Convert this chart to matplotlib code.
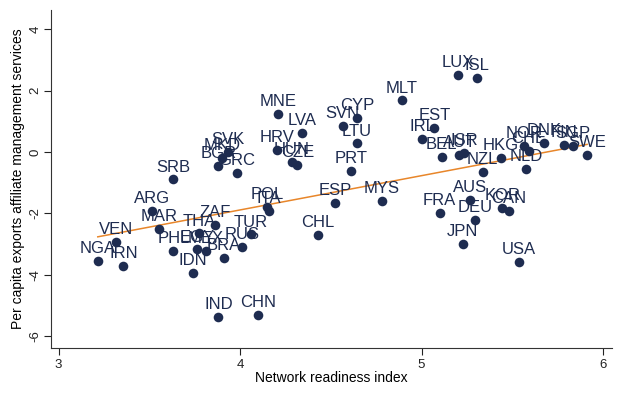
import numpy as np
import matplotlib
matplotlib.use('Agg')
import matplotlib.pyplot as plt

plt.rcParams['font.family'] = ['Liberation Sans', 'DejaVu Sans']

# Country codes, network readiness index, per capita exports
codes = ['NGA', 'IRN', 'VEN', 'ARG', 'MAR', 'PHL', 'THA', 'EGY', 'MEX', 'ZAF',
         'BRA', 'RUS', 'TUR', 'POL', 'ITA', 'IDN', 'IND', 'CHN', 'SRB', 'SVK',
         'MKD', 'BGR', 'GRC', 'MNE', 'LVA', 'HRV', 'HUN', 'CZE', 'SVN', 'CYP',
         'LTU', 'PRT', 'ESP', 'MYS', 'CHL', 'LUX', 'ISL', 'MLT', 'EST', 'IRL',
         'BEL', 'AUT', 'ISR', 'NZL', 'HKG', 'NLD', 'NOR', 'CHE', 'DNK', 'FIN',
         'SGP', 'SWE', 'FRA', 'AUS', 'DEU', 'JPN', 'KOR', 'CAN', 'USA']
nri = [3.216, 3.357, 3.317, 3.515, 3.554, 3.633, 3.773, 3.762, 3.811, 3.863,
       3.911, 4.012, 4.061, 4.148, 4.160, 3.741, 3.881, 4.100, 3.633, 3.933,
       3.900, 3.881, 3.982, 4.208, 4.341, 4.206, 4.286, 4.316, 4.565, 4.644,
       4.644, 4.612, 4.524, 4.782, 4.427, 5.201, 5.307, 4.892, 5.070, 5.002,
       5.110, 5.208, 5.235, 5.336, 5.438, 5.575, 5.562, 5.590, 5.676, 5.783,
       5.835, 5.912, 5.099, 5.268, 5.296, 5.228, 5.445, 5.480, 5.535]
exports = [-3.55, -3.71, -2.94, -1.91, -2.51, -3.22, -2.65, -3.17, -3.21, -2.36,
           -3.45, -3.10, -2.68, -1.78, -1.92, -3.93, -5.38, -5.31, -0.89, 0.01,
           -0.19, -0.45, -0.67, 1.23, 0.61, 0.07, -0.32, -0.42, 0.85, 1.10,
           0.28, -0.61, -1.67, -1.59, -2.71, 2.51, 2.40, 1.68, 0.79, 0.42,
           -0.17, -0.10, -0.03, -0.64, -0.20, -0.55, 0.20, 0.04, 0.30, 0.24,
           0.20, -0.09, -1.98, -1.56, -2.22, -3.00, -1.82, -1.91, -3.57]

# fitted line endpoints
fit_x = [3.216, 5.912]
fit_y = [-2.76, 0.25]

navy = '#1e2c50'
orange = '#e8862a'

fig = plt.figure(figsize=(6.37, 3.95), dpi=100)
ax = fig.add_axes([0.08, 0.119, 0.881, 0.856])

ax.scatter(nri, exports, s=48, color=navy, zorder=3, linewidths=0)
for c, x, y in zip(codes, nri, exports):
    ax.annotate(c, (x, y), xytext=(0, 3.5), textcoords='offset points',
                ha='center', va='bottom', fontsize=12, color=navy, zorder=4)
ax.plot(fit_x, fit_y, color=orange, lw=1.1, zorder=2)

ax.set_xlim(2.958, 6.05)
ax.set_ylim(-6.38, 4.63)
ax.set_xticks([3, 4, 5, 6])
ax.set_yticks([-6, -4, -2, 0, 2, 4])
ax.set_yticklabels(['-6', '-4', '-2', '0', '2', '4'], rotation=90, va='center')
ax.tick_params(axis='both', direction='out', length=5, width=0.8, labelsize=9.5,
               colors='#222222', pad=3)
ax.tick_params(axis='y', pad=2)
ax.set_xlabel('Network readiness index', fontsize=10, labelpad=0)
ax.set_ylabel('Per capita exports affiliate management services', fontsize=10, labelpad=3)

for side in ['top', 'right']:
    ax.spines[side].set_visible(False)
for side in ['left', 'bottom']:
    ax.spines[side].set_linewidth(0.8)
    ax.spines[side].set_color('#333333')

fig.savefig('out.png', dpi=100)
